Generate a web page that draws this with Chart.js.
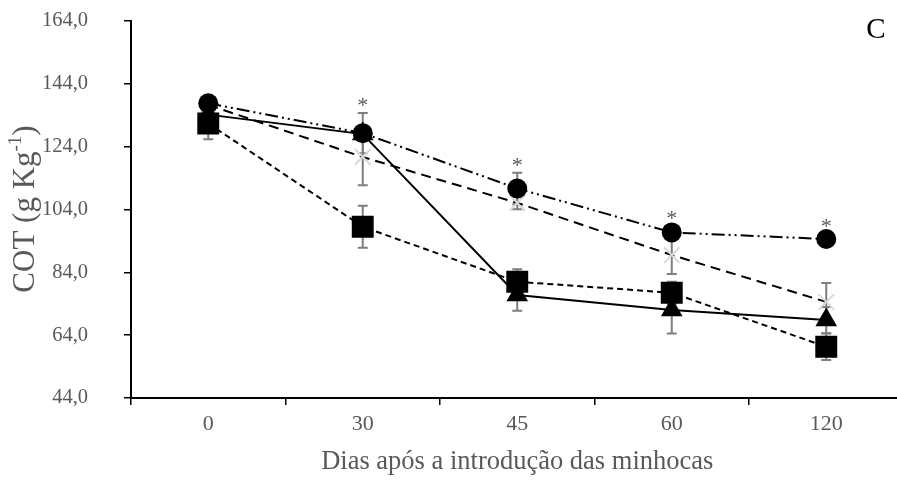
<!DOCTYPE html>
<html><head><meta charset="utf-8">
<script src="https://cdn.jsdelivr.net/npm/chart.js@4/dist/chart.umd.min.js"></script>
<style>
html,body{margin:0;padding:0;background:#fff;overflow:hidden;width:897px;height:480px}
#wrap{position:relative;width:919px;height:480px}
</style></head>
<body><div id="wrap"><canvas id="c" width="919" height="480"></canvas></div>
<script>
const categories = ['0', '30', '45', '60', '120'];
const circleValues   = [137.8, 128.3, 110.7, 96.7, 94.6];
const crossValues    = [137.3, 120.7, 106.1, 89.5, 74.6];
const triangleValues = [134.2, 128.0, 76.8, 72.0, 68.8];
const squareValues   = [131.4, 98.5, 81.0, 77.5, 60.3];
const circleErrors   = [2.0, 6.4, 5.0, 2.0, 1.5];
const crossErrors    = [2.0, 9.0, 2.0, 6.0, 6.0];
const triangleErrors = [2.0, 2.0, 5.0, 7.5, 4.2];
const squareErrors   = [5.0, 6.7, 4.0, 3.5, 4.2];
const significant    = [false, true, true, true, true];
const yTicks = [44, 64, 84, 104, 124, 144, 164];
const panelLetter = 'C';
const xTitle = 'Dias após a introdução das minhocas';

const SERIF = '"Liberation Serif", "Times New Roman", serif';
const GRAY_TEXT = '#595959';

const errorSets = [circleErrors, squareErrors, triangleErrors, crossErrors];

const errorBarPlugin = {
  id: 'errorBars',
  beforeDatasetsDraw(chart) {
    const ctx = chart.ctx, ys = chart.scales.y;
    ctx.save();
    ctx.strokeStyle = '#7f7f7f';
    ctx.lineWidth = 2;
    chart.data.datasets.forEach((ds, di) => {
      const meta = chart.getDatasetMeta(di);
      const errs = errorSets[di];
      meta.data.forEach((pt, i) => {
        const v = ds.data[i], e = errs[i];
        const yTop = ys.getPixelForValue(v + e), yBot = ys.getPixelForValue(v - e);
        const x = pt.x;
        ctx.beginPath();
        ctx.moveTo(x, yTop); ctx.lineTo(x, yBot);
        ctx.moveTo(x - 5, yTop); ctx.lineTo(x + 5, yTop);
        ctx.moveTo(x - 5, yBot); ctx.lineTo(x + 5, yBot);
        ctx.stroke();
      });
    });
    ctx.restore();
  }
};

const annotationPlugin = {
  id: 'annots',
  afterDraw(chart) {
    const ctx = chart.ctx, ys = chart.scales.y;
    const meta = chart.getDatasetMeta(0);
    ctx.save();
    // asterisks
    ctx.fillStyle = GRAY_TEXT;
    ctx.font = '22px ' + SERIF;
    ctx.textAlign = 'center';
    ctx.textBaseline = 'alphabetic';
    meta.data.forEach((pt, i) => {
      if (!significant[i]) return;
      const yTop = ys.getPixelForValue(circleValues[i] + circleErrors[i]);
      ctx.fillText('*', pt.x, yTop - 1);
    });
    // panel letter
    ctx.fillStyle = '#000';
    ctx.font = '29px ' + SERIF;
    ctx.textAlign = 'center';
    ctx.textBaseline = 'middle';
    ctx.fillText(panelLetter, 876, 30);
    // y title with superscript
    ctx.translate(26, 209);
    ctx.rotate(-Math.PI / 2);
    ctx.fillStyle = GRAY_TEXT;
    ctx.textBaseline = 'middle';
    ctx.textAlign = 'left';
    const big = '31px ' + SERIF, small = '19px ' + SERIF;
    const p1 = 'COT (g Kg', p2 = '-1', p3 = ')';
    ctx.font = big; const w1 = ctx.measureText(p1).width, w3 = ctx.measureText(p3).width;
    ctx.font = small; const w2 = ctx.measureText(p2).width;
    let x0 = -(w1 + w2 + w3) / 2;
    ctx.font = big; ctx.fillText(p1, x0, 0);
    ctx.font = small; ctx.fillText(p2, x0 + w1, -10);
    ctx.font = big; ctx.fillText(p3, x0 + w1 + w2, 0);
    ctx.restore();
  }
};

new Chart(document.getElementById('c'), {
  type: 'line',
  data: {
    labels: categories,
    datasets: [
      { data: circleValues, borderColor: '#000', borderWidth: 2, borderDash: [13, 4, 2, 4, 2, 4],
        pointStyle: 'circle', pointRadius: 10, pointBackgroundColor: '#000', pointBorderColor: '#000', pointBorderWidth: 0, tension: 0 },
      { data: squareValues, borderColor: '#000', borderWidth: 2, borderDash: [6, 4],
        pointStyle: 'rect', pointRadius: 15.5, pointBackgroundColor: '#000', pointBorderColor: '#000', pointBorderWidth: 0, tension: 0 },
      { data: triangleValues, borderColor: '#000', borderWidth: 2,
        pointStyle: 'triangle', pointRadius: 12.5, pointBackgroundColor: '#000', pointBorderColor: '#000', pointBorderWidth: 0, tension: 0 },
      { data: crossValues, borderColor: '#000', borderWidth: 2, borderDash: [10, 6],
        pointStyle: 'crossRot', pointRadius: 11, pointBackgroundColor: '#d9d9d9', pointBorderColor: '#d9d9d9', pointBorderWidth: 2, tension: 0 }
    ]
  },
  options: {
    responsive: false,
    animation: false,
    devicePixelRatio: 1,
    layout: { padding: { top: 21, right: 15, left: 0, bottom: 0 } },
    plugins: { legend: { display: false }, tooltip: { enabled: false } },
    scales: {
      x: {
        type: 'category', offset: true,
        grid: { offset: true, drawOnChartArea: false, drawTicks: true, tickLength: 7, color: '#000', lineWidth: 1.5 },
        border: { display: true, color: '#000', width: 2 },
        ticks: { color: GRAY_TEXT, font: { family: SERIF, size: 22 }, padding: 6, maxRotation: 0 },
        title: { display: true, text: xTitle, color: GRAY_TEXT, font: { family: SERIF, size: 26.5 }, padding: { top: 4, bottom: 2 } },
        afterFit: s => { s.height = 82; s.paddingLeft = 0; s.paddingRight = 0; }
      },
      y: {
        min: 44, max: 164,
        afterBuildTicks: s => { s.ticks = yTicks.map(v => ({ value: v })); },
        ticks: { color: GRAY_TEXT, font: { family: SERIF, size: 20.5 }, padding: 36,
          callback: v => v.toFixed(1).replace('.', ',') },
        grid: { drawOnChartArea: false, drawTicks: true, tickLength: 7, color: '#000', lineWidth: 1.5 },
        border: { display: true, color: '#000', width: 2 },
        afterFit: s => { s.width = 131; s.paddingTop = 12; s.paddingBottom = 12; }
      }
    }
  },
  plugins: [errorBarPlugin, annotationPlugin]
});
</script>
</body></html>
